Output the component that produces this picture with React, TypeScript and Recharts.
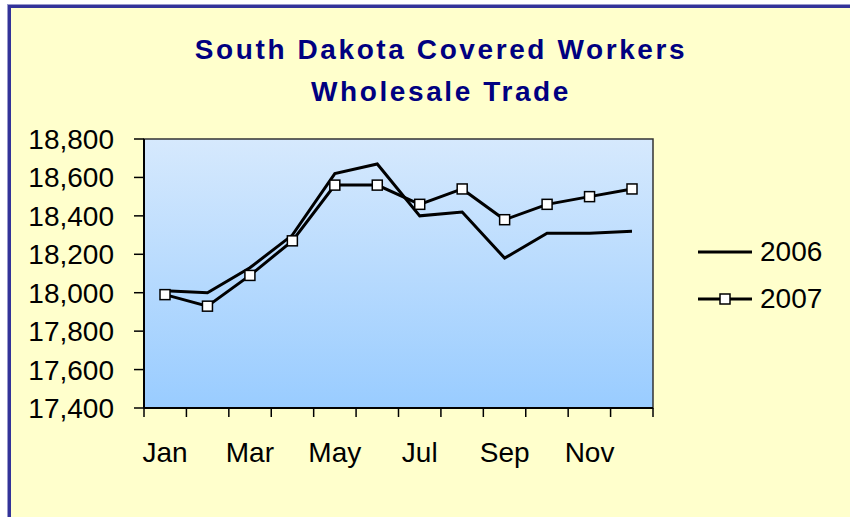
import React from "react";
import { LineChart, Line, XAxis, YAxis, ReferenceArea, Legend } from "recharts";

const months = ["Jan", "Feb", "Mar", "Apr", "May", "Jun", "Jul", "Aug", "Sep", "Oct", "Nov", "Dec"];
const workers2006 = [18010, 18000, 18130, 18300, 18620, 18670, 18400, 18420, 18180, 18310, 18310, 18320];
const workers2007 = [17990, 17930, 18090, 18270, 18560, 18560, 18460, 18540, 18380, 18460, 18500, 18540];
const seriesNames = ["2006", "2007"];
const yTicks = [17400, 17600, 17800, 18000, 18200, 18400, 18600, 18800];
// tick marks sit between the months, like the old Excel chart
const monthEdges = months.map((_, i) => i).concat(months.length);

const data = months.map((m, i) => ({
  month: m,
  idx: i,
  y2006: workers2006[i],
  y2007: workers2007[i],
}));

const FONT = '"Liberation Sans", Arial, sans-serif';

const SquareDot = (props: any) => {
  const { cx, cy, index } = props;
  if (cx == null || cy == null) return <g key={index} />;
  return (
    <rect
      key={index}
      x={cx - 5}
      y={cy - 5}
      width={10}
      height={10}
      fill="#fff"
      stroke="#000"
      strokeWidth={1.5}
    />
  );
};

const LegendContent = () => (
  <div style={{ fontFamily: FONT }}>
    {seriesNames.map((name, i) => (
      <div key={name} style={{ display: "flex", alignItems: "center", height: 47 }}>
        <svg width={54} height={20} style={{ marginRight: 8 }}>
          <line x1={0} y1={10} x2={54} y2={10} stroke="#000" strokeWidth={3} />
          {i === 1 && <rect x={22} y={5} width={10} height={10} fill="#fff" stroke="#000" strokeWidth={1.5} />}
        </svg>
        <span style={{ fontSize: 28, color: "#000" }}>{name}</span>
      </div>
    ))}
  </div>
);

export default function App() {
  return (
    <div style={{ position: "fixed", left: 0, top: 0, width: 850, height: 517, background: "#fff", overflow: "hidden", fontFamily: FONT }}>
      <div
        style={{
          position: "absolute",
          left: 8,
          top: 5,
          width: 850,
          height: 520,
          background: "#FFFFCC",
          borderLeft: "3px solid #333399",
          borderTop: "3px solid #333399",
          boxShadow: "-1px -1px 0 #9999cc",
        }}
      />
      <div
        style={{
          position: "absolute",
          left: 0,
          top: 29,
          width: 882,
          textAlign: "center",
          color: "#000080",
          fontWeight: "bold",
          fontSize: 28,
          lineHeight: "42px",
          letterSpacing: 2.6,
        }}
      >
        <div>South Dakota Covered Workers</div>
        <div>Wholesale Trade</div>
      </div>
      <div style={{ position: "absolute", left: 0, top: 0 }}>
        <LineChart width={850} height={517} data={data} margin={{ top: 139, right: 197, bottom: 48, left: 0 }}>
          <defs>
            <linearGradient id="plotFill" x1="0" y1="0" x2="0" y2="1">
              <stop offset="0%" stopColor="#D6E9FD" />
              <stop offset="100%" stopColor="#99CCFF" />
            </linearGradient>
          </defs>
          <XAxis
            xAxisId="edge"
            type="number"
            dataKey="idx"
            domain={[0, months.length]}
            ticks={monthEdges}
            interval={0}
            allowDataOverflow
            height={1}
            tickFormatter={() => ""}
            tick={{ fontSize: 1 }}
            tickSize={9}
            axisLine={{ stroke: "#000", strokeWidth: 2 }}
            tickLine={{ stroke: "#000", strokeWidth: 1.5 }}
          />
          <XAxis
            xAxisId="m"
            dataKey="month"
            interval={1}
            padding={{ left: 21, right: 21 }}
            height={60}
            axisLine={false}
            tickLine={false}
            tickSize={9}
            tickMargin={24}
            tick={{ fill: "#000", fontSize: 28, fontFamily: FONT }}
          />
          <YAxis
            domain={[17400, 18800]}
            ticks={yTicks}
            interval={0}
            width={144}
            tickSize={10}
            tickMargin={20}
            tickFormatter={(v: number) => v.toLocaleString("en-US")}
            axisLine={{ stroke: "#000", strokeWidth: 2 }}
            tickLine={{ stroke: "#000", strokeWidth: 1.5 }}
            tick={{ fill: "#000", fontSize: 28, fontFamily: FONT }}
          />
          <ReferenceArea
            xAxisId="edge"
            y1={17400}
            y2={18800}
            fill="url(#plotFill)"
            fillOpacity={1}
            stroke="#333"
            strokeWidth={1.5}
          />
          <Legend
            layout="vertical"
            align="center"
            verticalAlign="middle"
            content={<LegendContent />}
            wrapperStyle={{ left: 698, top: 228, width: 150 }}
          />
          <Line
            xAxisId="m"
            type="linear"
            dataKey="y2006"
            name={seriesNames[0]}
            stroke="#000"
            strokeWidth={3}
            dot={false}
            isAnimationActive={false}
          />
          <Line
            xAxisId="m"
            type="linear"
            dataKey="y2007"
            name={seriesNames[1]}
            stroke="#000"
            strokeWidth={3}
            dot={<SquareDot />}
            isAnimationActive={false}
          />
        </LineChart>
      </div>
    </div>
  );
}
